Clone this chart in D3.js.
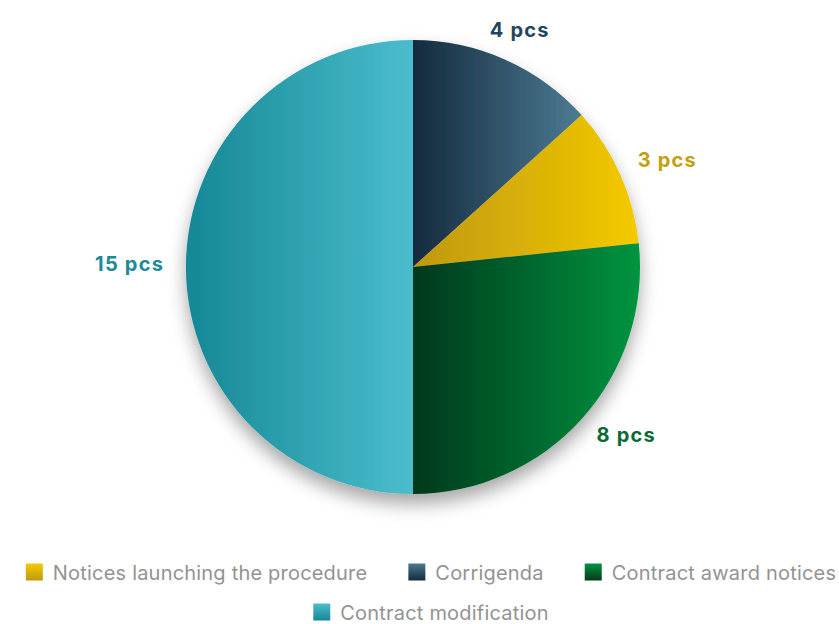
<!DOCTYPE html>
<html>
<head>
<meta charset="utf-8">
<script src="https://cdn.jsdelivr.net/npm/d3@7"></script>
<style>
  html, body { margin: 0; padding: 0; background: #ffffff; }
  svg { display: block; font-family: Inter, Roboto, "Noto Sans", sans-serif; }
</style>
</head>
<body>
<svg id="chart" width="839" height="624"></svg>
<script>
// ---- data ----
const categories = ["Notices launching the procedure", "Corrigenda", "Contract award notices", "Contract modification"];
const values = [3, 4, 8, 15];
const pieOrder = ["Corrigenda", "Notices launching the procedure", "Contract award notices", "Contract modification"];
const labelSuffix = " pcs";
// gradient stops: [dark, light]
const gradDark  = ["#bf980e", "#142a3d", "#06381c", "#158795"];
const gradLight = ["#f4ca00", "#4c7b93", "#00943f", "#4bbdcc"];
const labelColors = ["#c2a00e", "#1f4560", "#0a6a33", "#1a8a99"];

const svg = d3.select("#chart");
const cx = 413, cy = 267, R = 227;

const defs = svg.append("defs");
const filter = defs.append("filter").attr("id", "shadow")
  .attr("x", "-20%").attr("y", "-20%").attr("width", "140%").attr("height", "150%");
filter.append("feDropShadow").attr("dx", 0).attr("dy", 10).attr("stdDeviation", 9)
  .attr("flood-color", "#000").attr("flood-opacity", 0.35);

categories.forEach((c, i) => {
  const g = defs.append("linearGradient").attr("id", "g" + i)
    .attr("x1", "0%").attr("x2", "100%").attr("y1", "0%").attr("y2", "0%");
  g.append("stop").attr("offset", "0%").attr("stop-color", gradDark[i]);
  g.append("stop").attr("offset", "100%").attr("stop-color", gradLight[i]);
  const v = defs.append("linearGradient").attr("id", "v" + i)
    .attr("x1", "0%").attr("x2", "0%").attr("y1", "0%").attr("y2", "100%");
  v.append("stop").attr("offset", "0%").attr("stop-color", gradLight[i]);
  v.append("stop").attr("offset", "100%").attr("stop-color", gradDark[i]);
});

const data = pieOrder.map(name => {
  const i = categories.indexOf(name);
  return { name, i, value: values[i] };
});

const pie = d3.pie().sort(null).value(d => d.value);
const arc = d3.arc().innerRadius(0).outerRadius(R);
const arcs = pie(data);

const gPie = svg.append("g").attr("transform", `translate(${cx},${cy})`)
  .attr("filter", "url(#shadow)");
gPie.selectAll("path").data(arcs).join("path")
  .attr("d", arc)
  .attr("fill", d => `url(#g${d.data.i})`);

// labels: vertical from mid-angle, horizontal snapped to a circle just outside the pie
const LRy = 256, LRx = 249, LOff = -3;
svg.append("g").attr("transform", `translate(${cx},${cy})`)
  .selectAll("text").data(arcs).join("text")
  .each(function(d) {
    const a = (d.startAngle + d.endAngle) / 2;
    const y = -Math.cos(a) * LRy + LOff;
    const side = a < Math.PI ? 1 : -1;
    const x = side * Math.sqrt(Math.max(0, LRx * LRx - y * y));
    d3.select(this)
      .attr("x", x).attr("y", y)
      .attr("dy", "0.35em")
      .attr("text-anchor", side > 0 ? "start" : "end");
  })
  .attr("font-size", 20)
  .attr("font-weight", 700)
  .attr("letter-spacing", 1.2)
  .attr("fill", d => labelColors[d.data.i])
  .text(d => d.value + labelSuffix);

// legend
const legend = svg.append("g");
const fontSize = 20, sq = 17, gapTxt = 10, itemGap = 41, centerX = 431;
const rowsY = [573, 613];
const maxW = 820;
const items = categories.map((c, i) => {
  const t = legend.append("text").attr("font-size", fontSize).attr("letter-spacing", 0.2).text(c);
  const w = t.node().getComputedTextLength();
  t.remove();
  return { c, i, w: sq + gapTxt + w };
});
const rows = [[]];
let cur = 0;
items.forEach(it => {
  const add = (rows[rows.length - 1].length ? itemGap : 0) + it.w;
  if (cur + add > maxW && rows[rows.length - 1].length) { rows.push([it]); cur = it.w; }
  else { rows[rows.length - 1].push(it); cur += add; }
});
rows.forEach((row, r) => {
  const total = d3.sum(row, d => d.w) + itemGap * (row.length - 1);
  let x = centerX - total / 2;
  const y = rowsY[r];
  row.forEach(it => {
    legend.append("rect").attr("x", x).attr("y", y - sq / 2 - 1)
      .attr("width", sq).attr("height", sq)
      .attr("fill", `url(#v${it.i})`);
    legend.append("text").attr("x", x + sq + gapTxt).attr("y", y)
      .attr("dy", "0.35em").attr("font-size", fontSize).attr("letter-spacing", 0.2)
      .attr("fill", "#939393")
      .text(it.c);
    x += it.w + itemGap;
  });
});
</script>
</body>
</html>
